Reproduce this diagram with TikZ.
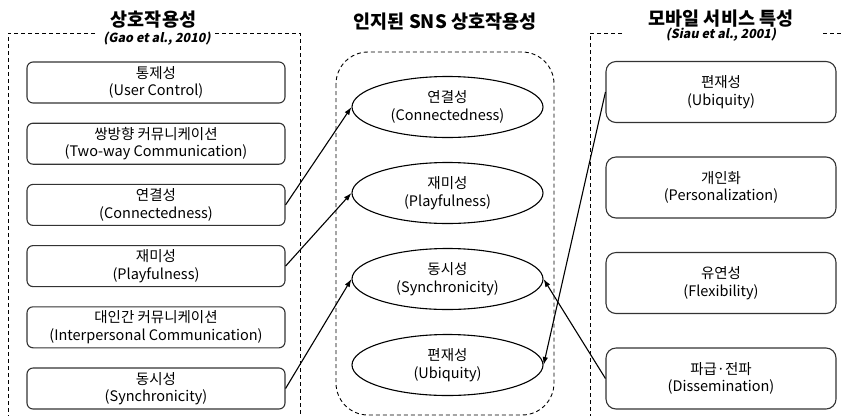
\documentclass[tikz,border=0pt]{standalone}
\usepackage{fontspec}
\setmainfont{Noto Sans CJK KR}
\newfontfamily\citefont[BoldFeatures={FakeSlant=0.2},ItalicFeatures={FakeSlant=0.2}]{Noto Sans CJK KR}
\usepackage{tikz}
\usetikzlibrary{shapes.geometric}
\usetikzlibrary{arrows.meta}
\tikzset{my_diagram/.style={x=1pt,y=-1pt,->,>={Latex[length=8pt,width=5.5pt]},line width=1.1pt}}
\tikzset{my_item/.style={draw=black!80,rounded corners=6pt,minimum width=258pt,minimum height=41pt,inner sep=0pt,align=center,font=\fontsize{14.5}{17.5}\selectfont}}
\tikzset{my_feature/.style={my_item,rounded corners=10pt,minimum width=230pt,minimum height=61pt}}
\tikzset{my_concept/.style={ellipse,draw,minimum width=191pt,minimum height=61pt,inner sep=0pt,align=center,font=\fontsize{14.5}{17.5}\selectfont}}
\tikzset{my_frame/.style={-,dash pattern=on 4pt off 3pt,line width=0.9pt}}
\tikzset{my_title/.style={font=\fontsize{18.5}{22}\selectfont\bfseries}}
\tikzset{my_cite/.style={inner sep=0pt,font=\citefont\fontsize{12.5}{15}\selectfont\bfseries}}

\begin{document}
\begin{tikzpicture}[my_diagram]
    \useasboundingbox (0,0) rectangle (842,416);
    %\draw[help lines,step=50] (0,0) grid (842,416);

    % titles
    \node[my_title] (t_left) at (153.5,20) {상호작용성};
    \node[my_title] (t_mid) at (445,22) {인지된 SNS 상호작용성};
    \node[my_title] (t_right) at (721,18.5) {모바일 서비스 특성};
    \node[my_cite] (c_left) at (157,39) {(Gao et al., 2010)};
    \node[my_cite] (c_right) at (721,35) {(Siau et al., 2001)};

    % frames
    \draw[my_frame] (95,33) -- (8,33) -- (8,416);
    \draw[my_frame] (215,33) -- (300,33) -- (300,416);
    \draw[my_frame] (622,33) -- (590,33) -- (590,416);
    \draw[my_frame] (823,33) -- (842,33);
    \draw[my_frame, rounded corners=32pt] (336,52) rectangle (554,415);

    % interactivity
    \node[my_item] (l1) at (156,82.5) {통제성\\(User Control)};
    \node[my_item] (l2) at (156,143.7) {쌍방향 커뮤니케이션\\(Two-way Communication)};
    \node[my_item] (l3) at (156,204.9) {연결성\\(Connectedness)};
    \node[my_item] (l4) at (156,266.1) {재미성\\(Playfulness)};
    \node[my_item] (l5) at (156,327.3) {대인간 커뮤니케이션\\(Interpersonal Communication)};
    \node[my_item] (l6) at (156,388.5) {동시성\\(Synchronicity)};

    % perceived SNS interactivity
    \node[my_concept] (m1) at (447.5,107) {연결성\\(Connectedness)};
    \node[my_concept] (m2) at (447.5,193) {재미성\\(Playfulness)};
    \node[my_concept] (m3) at (447.5,279) {동시성\\(Synchronicity)};
    \node[my_concept] (m4) at (447.5,365) {편재성\\(Ubiquity)};

    % mobile service
    \node[my_feature] (r1) at (721,92) {편재성\\(Ubiquity)};
    \node[my_feature] (r2) at (721,187.5) {개인화\\(Personalization)};
    \node[my_feature] (r3) at (721,283) {유연성\\(Flexibility)};
    \node[my_feature] (r4) at (721,378.5) {파급·전파\\(Dissemination)};

    \path
        (l3.east) edge (m1.west)
        (l4.east) edge (m2.west)
        (l6.east) edge (m3.west)
        (r1.west) edge (m4.east)
        (r4.west) edge (m3.east)
    ;
\end{tikzpicture}
\end{document}
